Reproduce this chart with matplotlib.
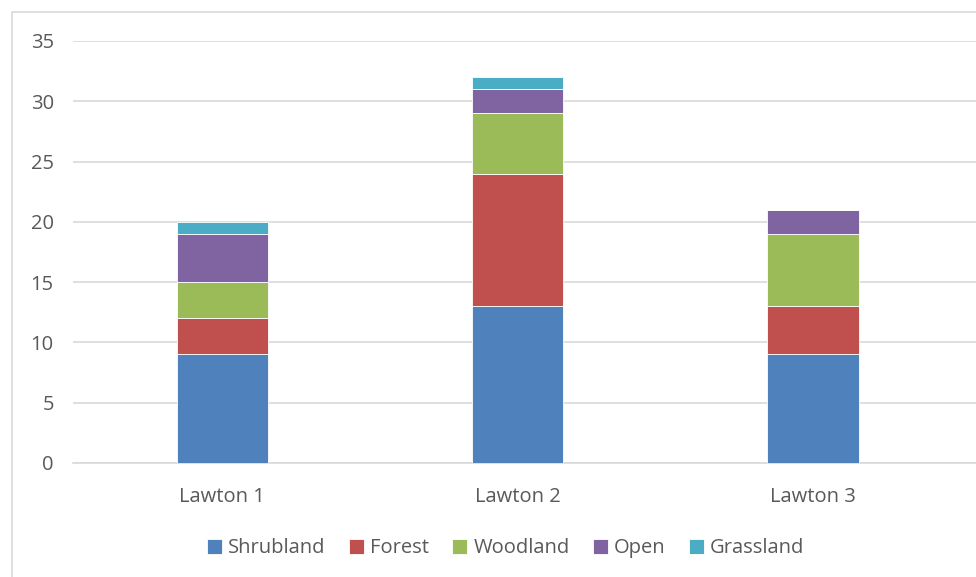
import matplotlib

matplotlib.use("Agg")
import matplotlib.pyplot as plt
import numpy as np
from matplotlib.patches import Rectangle

categories = ["Lawton 1", "Lawton 2", "Lawton 3"]
series_names = ["Shrubland", "Forest", "Woodland", "Open", "Grassland"]
shrubland = [9, 13, 9]
forest = [3, 11, 4]
woodland = [3, 5, 6]
open_land = [4, 2, 2]
grassland = [1, 1, 0]
y_ticks = [0, 5, 10, 15, 20, 25, 30, 35]

colors = ["#4f81bd", "#c0504d", "#9bbb59", "#8064a2", "#4bacc6"]
text_color = "#595959"
grid_color = "#d9d9d9"

plt.rcParams["font.family"] = ["Open Sans", "DejaVu Sans"]

fig = plt.figure(figsize=(9.76, 5.77), dpi=100)
ax = fig.add_axes([0.075, 0.1976, 0.925, 0.7314])

x = np.arange(len(categories))
bottom = np.zeros(len(categories))
for name, vals, col in zip(series_names,
                           [shrubland, forest, woodland, open_land, grassland],
                           colors):
    vals = np.array(vals, dtype=float)
    ax.bar(x, vals, width=0.31, bottom=bottom, color=col, label=name,
           edgecolor="white", linewidth=0.6, zorder=3)
    bottom += vals

ax.set_xlim(-0.505, 2.553)
ax.set_ylim(0, 35)
ax.set_yticks(y_ticks)
ax.set_xticks(x)
ax.set_xticklabels(categories)
ax.tick_params(axis="both", length=0, labelsize=14.5, colors=text_color)
ax.tick_params(axis="y", pad=14)
ax.tick_params(axis="x", pad=17)
ax.grid(axis="y", color=grid_color, linewidth=1.2, zorder=0)
for s in ["top", "right", "left"]:
    ax.spines[s].set_visible(False)
ax.spines["bottom"].set_color(grid_color)
ax.spines["bottom"].set_linewidth(1.2)

# outer chart border
fig.patches.append(Rectangle((12 / 976, -0.01), 1.0, 1 - 12 / 577 + 0.01,
                             transform=fig.transFigure, fill=False,
                             edgecolor="#d9d9d9", linewidth=1.2))

leg = fig.legend(loc="center", bbox_to_anchor=(0.518, 0.05), ncol=5,
                 frameon=False, fontsize=14.5, handlelength=0.75,
                 handleheight=0.75, handletextpad=0.3, columnspacing=1.15)
for t in leg.get_texts():
    t.set_color(text_color)

fig.savefig("out.png", dpi=100, facecolor="white")
